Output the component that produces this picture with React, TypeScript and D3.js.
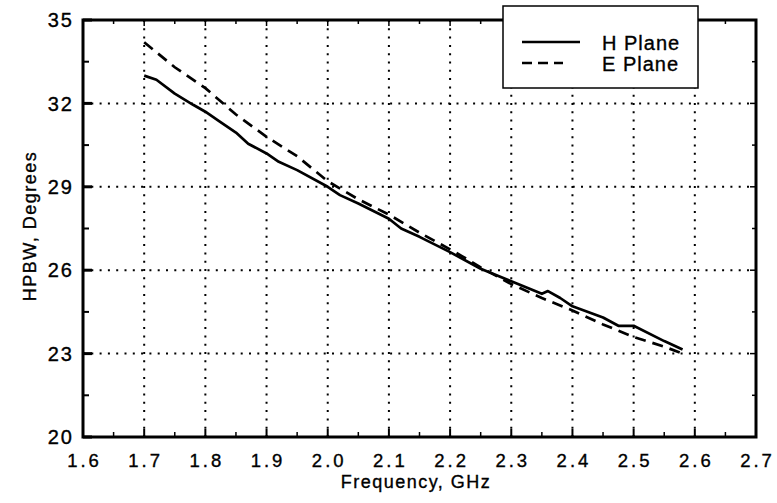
import React from "react";
import * as d3 from "d3";

const hFreq = [1.70, 1.72, 1.75, 1.78, 1.80, 1.82, 1.85, 1.87, 1.90, 1.92, 1.95, 2.00, 2.02, 2.05, 2.10, 2.12, 2.15, 2.20, 2.25, 2.30, 2.35, 2.36, 2.38, 2.40, 2.45, 2.475, 2.50, 2.55, 2.58];
const hVal = [33.0, 32.85, 32.35, 31.95, 31.7, 31.4, 30.95, 30.55, 30.2, 29.9, 29.6, 29.0, 28.7, 28.4, 27.85, 27.5, 27.2, 26.65, 26.05, 25.6, 25.15, 25.25, 25.0, 24.7, 24.3, 24.0, 24.0, 23.45, 23.15];
const eFreq = [1.70, 1.75, 1.80, 1.85, 1.90, 1.95, 2.00, 2.05, 2.10, 2.15, 2.20, 2.22, 2.25, 2.30, 2.35, 2.40, 2.45, 2.50, 2.55, 2.58];
const eVal = [34.2, 33.3, 32.55, 31.6, 30.8, 30.1, 29.2, 28.55, 28.0, 27.35, 26.75, 26.5, 26.1, 25.5, 25.0, 24.55, 24.05, 23.6, 23.25, 23.0];
const xTicks = [1.6, 1.7, 1.8, 1.9, 2.0, 2.1, 2.2, 2.3, 2.4, 2.5, 2.6, 2.7];
const yTicks = [20, 23, 26, 29, 32, 35];
const seriesNames = ["H Plane", "E Plane"];

export default function App() {
  const W = 777, H = 503;
  const L = 83, R = 756, T = 20, B = 437;
  const x = d3.scaleLinear().domain([1.6, 2.7]).range([L, R]);
  const y = d3.scaleLinear().domain([20, 35]).range([B, T]);
  const line = d3.line<[number, number]>().x(d => x(d[0])).y(d => y(d[1]));
  const hData = hFreq.map((f, i) => [f, hVal[i]] as [number, number]);
  const eData = eFreq.map((f, i) => [f, eVal[i]] as [number, number]);
  const xMinor = d3.range(1.65, 2.7, 0.1);
  const yMinor = d3.range(21.5, 35, 3);
  const font = "Liberation Sans, Arial, sans-serif";
  const lx = 503, ly = 6, lw = 195, lh = 82;
  const txtStroke = { stroke: "#000", strokeWidth: 0.35 };
  return (
    <svg width={W} height={H} style={{ position: "absolute", left: 0, top: 0 }} fontFamily={font}>
      <rect width={W} height={H} fill="#fff" />
      {/* grid */}
      {xTicks.slice(1, -1).map(t => (
        <line key={"gx" + t} x1={x(t)} x2={x(t)} y1={T} y2={B} stroke="#000" strokeWidth={2} strokeDasharray="2,6.3" />
      ))}
      {yTicks.slice(1, -1).map(t => (
        <line key={"gy" + t} x1={L} x2={R} y1={y(t)} y2={y(t)} stroke="#000" strokeWidth={2} strokeDasharray="2,6.3" />
      ))}
      {/* ticks */}
      {xTicks.map(t => (
        <g key={"tx" + t}>
          <line x1={x(t)} x2={x(t)} y1={B} y2={B - 8} stroke="#000" strokeWidth={2} />
          <line x1={x(t)} x2={x(t)} y1={T} y2={T + 6} stroke="#000" strokeWidth={1.5} />
        </g>
      ))}
      {xMinor.map(t => (
        <g key={"mx" + t}>
          <line x1={x(t)} x2={x(t)} y1={B} y2={B - 5} stroke="#000" strokeWidth={1.5} />
          <line x1={x(t)} x2={x(t)} y1={T} y2={T + 4} stroke="#000" strokeWidth={1.5} />
        </g>
      ))}
      {yTicks.map(t => (
        <g key={"ty" + t}>
          <line x1={L} x2={L + 9} y1={y(t)} y2={y(t)} stroke="#000" strokeWidth={3} />
          <line x1={R} x2={R - 6} y1={y(t)} y2={y(t)} stroke="#000" strokeWidth={1.5} />
        </g>
      ))}
      {yMinor.map(t => (
        <g key={"my" + t}>
          <line x1={L} x2={L + 6} y1={y(t)} y2={y(t)} stroke="#000" strokeWidth={2} />
          <line x1={R} x2={R - 4} y1={y(t)} y2={y(t)} stroke="#000" strokeWidth={1.5} />
        </g>
      ))}
      {/* frame */}
      <rect x={L} y={T} width={R - L} height={B - T} fill="none" stroke="#000" strokeWidth={3} />
      {/* series */}
      <path d={line(hData) || ""} fill="none" stroke="#000" strokeWidth={2.7} strokeLinejoin="round" />
      <path d={line(eData) || ""} fill="none" stroke="#000" strokeWidth={2.7} strokeDasharray="11,7" />
      {/* tick labels */}
      {xTicks.map(t => (
        <text key={"lx" + t} x={x(t)} dx={1.5} y={467} textAnchor="middle" fontSize={18.5} letterSpacing={3} {...txtStroke}>{t.toFixed(1)}</text>
      ))}
      {yTicks.map(t => (
        <text key={"ly" + t} x={74} y={y(t)} dy="0.36em" textAnchor="end" fontSize={20} letterSpacing={2} {...txtStroke}>{t}</text>
      ))}
      {/* axis titles */}
      <text x={416} y={488} textAnchor="middle" fontSize={18} letterSpacing={1.5} {...txtStroke}>Frequency, GHz</text>
      <text transform={`translate(36,226) rotate(-90)`} textAnchor="middle" fontSize={18} letterSpacing={1.5} {...txtStroke}>HPBW, Degrees</text>
      {/* legend */}
      <rect x={lx} y={ly} width={lw} height={lh} fill="#fff" stroke="#000" strokeWidth={1.5} />
      <line x1={522} x2={580} y1={42} y2={42} stroke="#000" strokeWidth={2.7} />
      <line x1={522} x2={563} y1={63} y2={63} stroke="#000" strokeWidth={2.7} strokeDasharray="10,6" />
      <text x={602} y={50} fontSize={20} letterSpacing={1} {...txtStroke}>{seriesNames[0]}</text>
      <text x={602} y={71} fontSize={20} letterSpacing={1} {...txtStroke}>{seriesNames[1]}</text>
    </svg>
  );
}
